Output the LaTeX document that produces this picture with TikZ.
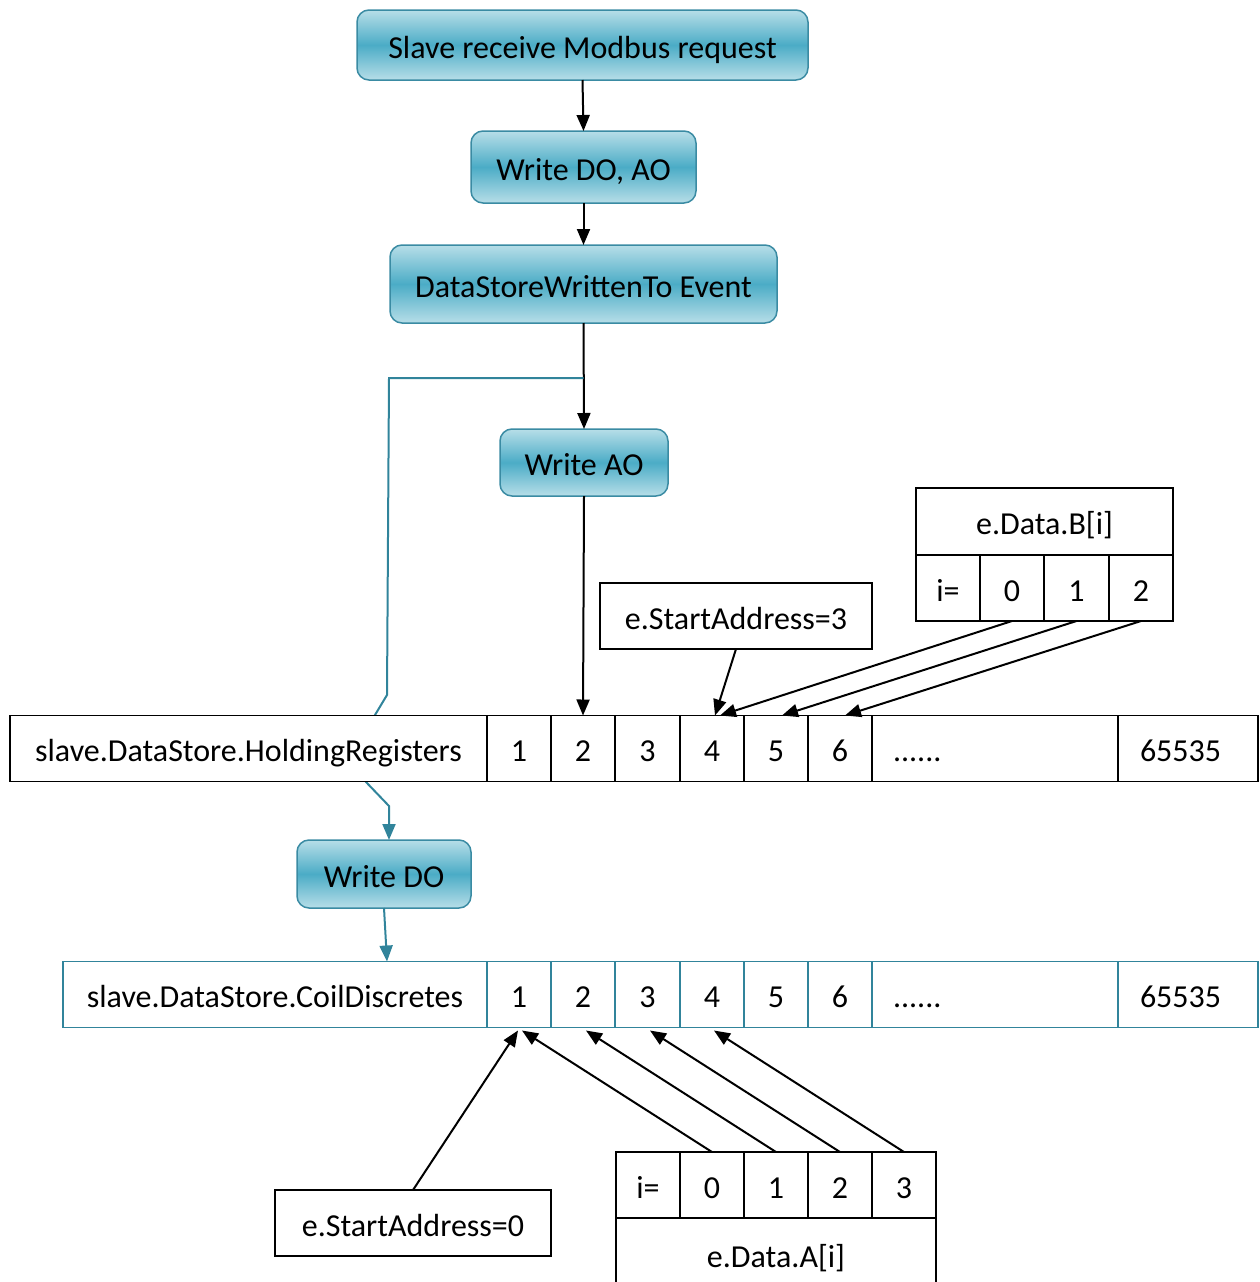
\documentclass[tikz,border=0pt]{standalone}
\usepackage{fontspec}
\setmainfont{Carlito}
\usetikzlibrary{arrows.meta,calc}
\definecolor{tealL}{HTML}{B7DEE8}
\definecolor{tealM}{HTML}{4BACC6}
\definecolor{tealB}{HTML}{3A8BA3}
\definecolor{tealLn}{HTML}{31849B}
\begin{document}
\begin{tikzpicture}[x=1pt,y=-1pt, font=\fontsize{32}{38}\selectfont,
  proc/.style={draw=tealB, line width=1.5pt, rounded corners=12pt, top color=tealL, bottom color=tealL, middle color=tealM, inner sep=0pt, outer sep=0pt, text height=28pt, text depth=2pt},
  cell/.style={draw, fill=white, line width=1.5pt, inner sep=0pt, outer sep=0pt, minimum height=66pt, text height=28pt, text depth=2pt},
  tcell/.style={cell, draw=tealLn},
  arr/.style={-{Triangle[length=16pt,width=13pt]}, line width=2pt},
  tarr/.style={arr, draw=tealLn}]
\useasboundingbox (0,0) rectangle (1260,1282);

% process boxes
\node[proc, minimum width=451pt, minimum height=70pt] (p1) at (582.5,45) {Slave receive Modbus request};
\node[proc, minimum width=225pt, minimum height=72pt] (p2) at (583.5,167) {Write DO, AO};
\node[proc, minimum width=387pt, minimum height=78pt] (p3) at (583.5,284) {DataStoreWrittenTo Event};
\node[proc, minimum width=168pt, minimum height=67pt] (p4) at (584,462.5) {Write AO};
\node[proc, minimum width=174pt, minimum height=68pt] (p5) at (384,874) {Write DO};

\draw[arr] (p1.south) -- (p2.north);
\draw[arr] (p2.south) -- (p3.north);
\draw[arr] (p3.south) -- (p4.north);

% teal branch (passes behind the holding-register row)
\coordinate (j) at (583.5,378);
\coordinate (t2) at (389,806);
\draw[tarr] (j) -- (389,378) -- (387,695) -- (372,720) -- (366,782) -- (t2) -- (t2 |- p5.north);

% holding registers row
\node[cell, minimum width=477pt] (hl) at (248.5,748.5) {slave.DataStore.HoldingRegisters};
\node[cell, minimum width=64pt] (h1) at (519,748.5) {1};
\node[cell, minimum width=64pt] (h2) at (583,748.5) {2};
\node[cell, minimum width=65pt] (h3) at (647.5,748.5) {3};
\node[cell, minimum width=64pt] (h4) at (712,748.5) {4};
\node[cell, minimum width=64pt] (h5) at (776,748.5) {5};
\node[cell, minimum width=64pt] (h6) at (840,748.5) {6};
\node[cell, text width=204pt, inner xsep=21pt, align=left] (hd) at (995,748.5) {......};
\node[cell, text width=96pt, inner xsep=22pt, align=left] (hx) at (1188,748.5) {65535};

\draw[arr] (p4.south) -- (h2.north);

% e.StartAddress=3 and e.Data.B
\node[cell, minimum width=272pt] (sa3) at (736,616) {e.StartAddress=3};
\node[cell, minimum width=257pt, minimum height=67pt] (bh) at (1044.5,521.5) {e.Data.B[i]};
\node[cell, minimum width=64pt] (bi) at (948,588) {i=};
\node[cell, minimum width=64pt] (b0) at (1012,588) {0};
\node[cell, minimum width=65pt] (b1) at (1076.5,588) {1};
\node[cell, minimum width=64pt] (b2) at (1141,588) {2};

\draw[arr] (sa3.south) -- ([xshift=3pt]h4.north);
\draw[arr] (b0.south) -- ([xshift=8pt]h4.north);
\draw[arr] (b1.south) -- ([xshift=6pt]h5.north);
\draw[arr] (b2.south) -- ([xshift=5pt]h6.north);

% coil discretes row
\node[tcell, minimum width=424pt] (cl) at (275,994.5) {slave.DataStore.CoilDiscretes};
\node[tcell, minimum width=64pt] (c1) at (519,994.5) {1};
\node[tcell, minimum width=64pt] (c2) at (583,994.5) {2};
\node[tcell, minimum width=65pt] (c3) at (647.5,994.5) {3};
\node[tcell, minimum width=64pt] (c4) at (712,994.5) {4};
\node[tcell, minimum width=64pt] (c5) at (776,994.5) {5};
\node[tcell, minimum width=64pt] (c6) at (840,994.5) {6};
\node[tcell, text width=204pt, inner xsep=21pt, align=left] (cd) at (995,994.5) {......};
\node[tcell, text width=96pt, inner xsep=22pt, align=left] (cx) at (1188,994.5) {65535};

\draw[tarr] (p5.south) -- ([xshift=3pt]p5.south |- cl.north);

% e.StartAddress=0 and e.Data.A
\node[cell, minimum width=276pt] (sa0) at (413,1223) {e.StartAddress=0};
\node[cell, minimum width=64pt] (ai) at (648,1185) {i=};
\node[cell, minimum width=64pt] (a0) at (712,1185) {0};
\node[cell, minimum width=64pt] (a1) at (776,1185) {1};
\node[cell, minimum width=64pt] (a2) at (840,1185) {2};
\node[cell, minimum width=64pt] (a3) at (904,1185) {3};
\node[cell, minimum width=320pt, minimum height=72pt] (ah) at (776,1254) {e.Data.A[i]};

\draw[arr] (sa0.north) -- ([xshift=-1pt,yshift=-3pt]c1.south);
\draw[arr] (a0.north) -- ([xshift=3pt,yshift=-3pt]c1.south);
\draw[arr] (a1.north) -- ([xshift=3pt,yshift=-3pt]c2.south);
\draw[arr] (a2.north) -- ([xshift=2.5pt,yshift=-3pt]c3.south);
\draw[arr] (a3.north) -- ([xshift=2pt,yshift=-3pt]c4.south);
\end{tikzpicture}
\end{document}
